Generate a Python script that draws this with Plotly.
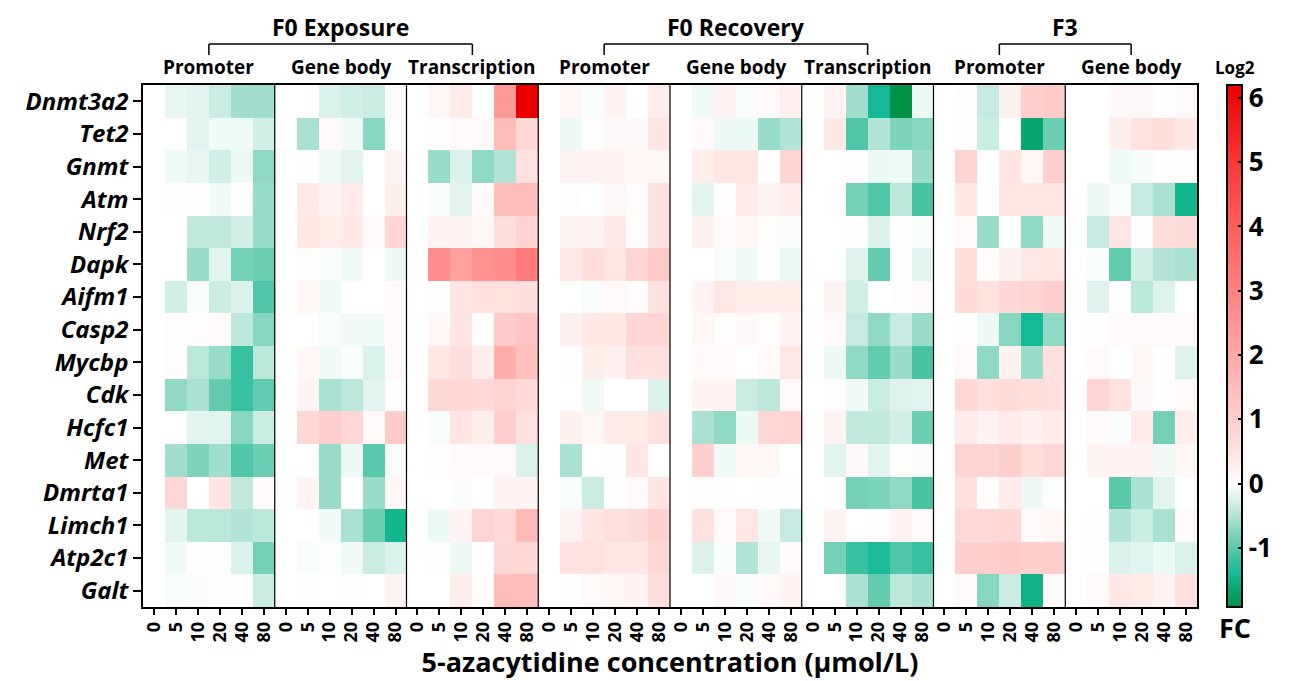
import plotly.graph_objects as go

genes = ["Dnmt3a2", "Tet2", "Gnmt", "Atm", "Nrf2", "Dapk", "Aifm1", "Casp2",
         "Mycbp", "Cdk", "Hcfc1", "Met", "Dmrta1", "Limch1", "Atp2c1", "Galt"]
concentrations = ["0", "5", "10", "20", "40", "80"]
panel_names = ["Promoter", "Gene body", "Transcription",
               "Promoter", "Gene body", "Transcription",
               "Promoter", "Gene body"]
groups = ["F0 Exposure", "F0 Recovery", "F3"]
group_panels = [[0, 1, 2], [3, 4, 5], [6, 7]]
cbar_ticks = [-1, 0, 1, 2, 3, 4, 5, 6]
cbar_labels = ["-1", "0", "1", "2", "3", "4", "5", "6"]

# log2 fold change per gene, columns 0,5,10,20,40,80 umol/L
f0e_promoter = [
    [0, -0.15, -0.2, -0.35, -0.6, -0.6],
    [0, 0, -0.2, -0.1, -0.1, -0.3],
    [0, -0.1, -0.15, -0.3, -0.12, -0.7],
    [0, 0.02, 0.05, -0.1, 0, -0.65],
    [0, 0, -0.4, -0.4, -0.3, -0.65],
    [0, 0, -0.65, -0.2, -0.85, -0.9],
    [0, -0.3, -0.05, -0.35, -0.25, -1.05],
    [0, 0.05, 0.05, 0.1, -0.45, -0.75],
    [0, 0.05, -0.45, -0.65, -1.2, -0.45],
    [0, -0.7, -0.55, -0.95, -1.2, -0.95],
    [0, 0, -0.2, -0.2, -0.75, -0.35],
    [0, -0.6, -0.8, -0.6, -1.05, -0.9],
    [0, 0.8, 0, 0.45, -0.4, 0.1],
    [0, -0.2, -0.45, -0.45, -0.5, -0.45],
    [0, -0.1, 0.02, -0.02, -0.25, -0.85],
    [0, -0.05, -0.03, 0.05, 0.05, -0.35],
]
f0e_genebody = [
    [0, 0, -0.25, -0.3, -0.35, -0.05],
    [0, -0.55, 0.1, -0.08, -0.75, -0.02],
    [0, 0.01, -0.1, -0.2, 0, 0.2],
    [0, 0.4, 0.2, 0.35, 0, 0.3],
    [0, 0.4, 0.3, 0.4, 0.1, 0.8],
    [0, 0.05, -0.05, -0.1, 0, -0.12],
    [0, 0.15, -0.1, 0, 0, 0.1],
    [0, 0, -0.05, -0.08, -0.08, 0.1],
    [0, 0.15, -0.1, -0.05, -0.25, 0.1],
    [0, 0.2, -0.55, -0.45, -0.2, 0.02],
    [0, 0.8, 1.0, 0.8, 0.1, 1.1],
    [0, 0, -0.65, -0.12, -1.0, -0.05],
    [0, 0.2, -0.65, 0, -0.65, 0.15],
    [0, 0, -0.08, -0.55, -0.9, -1.45],
    [0, -0.05, -0.02, -0.1, -0.35, -0.25],
    [0, 0.02, 0, 0.02, 0, 0.2],
]
f0e_transcription = [
    [0, 0.15, 0.35, 0, 2.4, 6.2],
    [0, 0.02, 0.1, 0.1, 1.5, 0.8],
    [0, -0.65, -0.25, -0.7, -0.5, 0.5],
    [0, -0.05, -0.2, 0.1, 1.5, 1.5],
    [0, 0.2, 0.2, 0.15, 0.6, 0.9],
    [0, 2.7, 2.2, 2.6, 2.7, 3.2],
    [0, 0.02, 0.45, 0.55, 0.5, 0.6],
    [0, 0.15, 0.45, 0.05, 1.1, 1.3],
    [0, 0.4, 0.6, 0.3, 1.9, 1.4],
    [0, 0.8, 0.8, 0.7, 0.9, 0.7],
    [0, -0.05, 0.45, 0.3, 1.0, 0.5],
    [0, 0.05, 0.1, 0.1, 0.1, -0.25],
    [0, 0, -0.03, 0, 0.2, 0.2],
    [0, -0.12, 0.2, 0.85, 0.7, 1.6],
    [0, -0.02, -0.12, 0, 0.8, 0.75],
    [0, 0, 0.3, 0.05, 1.5, 1.45],
]
f0r_promoter = [
    [0, 0.15, -0.03, 0.2, 0, 0.3],
    [0, -0.12, 0.05, 0.12, 0.12, 0.45],
    [0, 0.2, 0.2, 0.2, 0.15, 0.15],
    [0, -0.02, 0, 0.12, 0.05, 0.5],
    [0, 0.2, 0.2, 0.4, 0.05, 0.5],
    [0, 0.4, 0.6, 0.45, 0.85, 1.1],
    [0, 0, -0.05, 0.1, 0.05, 0.5],
    [0, 0.25, 0.4, 0.4, 0.8, 0.85],
    [0, 0.02, 0.3, 0.25, 0.5, 0.55],
    [0, 0, -0.1, 0, 0, -0.25],
    [0, 0.25, 0.15, 0.35, 0.35, 0.55],
    [0, -0.55, 0, 0.02, 0.45, 0],
    [0, -0.05, -0.35, 0.02, 0.1, 0.45],
    [0, 0.2, 0.45, 0.55, 0.65, 0.95],
    [0, 0.5, 0.5, 0.4, 0.4, 0.8],
    [0, 0.02, 0.1, 0.15, 0.2, 0.6],
]
f0r_genebody = [
    [0, -0.1, 0.2, -0.05, 0.1, 0.25],
    [0, 0.1, -0.12, -0.12, -0.65, -0.5],
    [0, 0.3, 0.45, 0.45, 0, 0.85],
    [0, -0.2, 0.05, 0.35, 0.2, 0.3],
    [0, 0.25, 0.1, 0.15, 0.05, -0.03],
    [0, 0, -0.05, -0.1, 0, -0.12],
    [0, 0.2, 0.45, 0.3, 0.3, 0.3],
    [0, 0.15, 0.05, 0.12, 0.05, 0.2],
    [0, 0.1, 0.1, 0, 0.1, 0.45],
    [0, 0.2, 0.2, -0.35, -0.45, 0.1],
    [0, -0.55, -0.7, -0.12, 0.8, 0.85],
    [0, 1.0, -0.1, 0.15, 0.15, 0],
    [0, 0.05, -0.02, 0, 0.03, 0.03],
    [0, 0.5, 0.1, 0.45, -0.1, -0.38],
    [0, -0.25, -0.05, -0.5, -0.15, 0.1],
    [0, 0, 0.12, -0.05, 0.1, 0.2],
]
f0r_transcription = [
    [0, 0.2, -0.6, -1.4, -1.92, -0.12],
    [0, 0.4, -1.05, -0.5, -0.8, -0.75],
    [0, 0, 0.02, -0.12, -0.1, -0.65],
    [0, 0.03, -0.85, -1.05, -0.45, -1.1],
    [0, 0, 0.02, -0.25, 0.03, -0.05],
    [0, 0, -0.22, -0.95, 0.03, -0.2],
    [0, 0.2, -0.3, 0, 0.05, 0.08],
    [0, 0.1, -0.38, -0.7, -0.38, -0.65],
    [0, -0.12, -0.7, -0.95, -0.65, -1.1],
    [0, 0.02, -0.1, -0.35, -0.22, -0.2],
    [0, 0.2, -0.4, -0.4, -0.3, -0.9],
    [0, -0.2, 0.12, -0.2, 0.05, -0.03],
    [0, 0.02, -0.85, -0.8, -0.7, -1.1],
    [0, 0.2, 0, 0.02, 0.2, 0.1],
    [0, -0.85, -1.2, -1.35, -1.05, -1.2],
    [0, 0, -0.55, -0.95, -0.45, -0.55],
]
f3_promoter = [
    [0, 0.05, -0.38, 0.25, 1.0, 1.1],
    [0, 0.05, -0.35, 0.02, -1.65, -0.9],
    [0, 0.9, 0.02, 0.45, 0.15, 1.0],
    [0, 0.4, 0, 0.45, 0.45, 0.45],
    [0, 0.1, -0.65, 0, -0.7, -0.1],
    [0, 0.6, 0.05, 0.25, 0.4, 0.4],
    [0, 0.65, 0.5, 0.8, 0.9, 1.0],
    [0, 0.05, -0.12, -0.75, -1.4, -0.7],
    [0, 0.1, -0.7, 0.25, -0.65, 0.5],
    [0, 0.8, 0.55, 0.65, 0.6, 0.55],
    [0, 0.35, 0.2, 0.35, 0.25, 0.35],
    [0, 0.9, 0.85, 1.0, 0.6, 0.8],
    [0, 0.55, 0.05, 0.35, -0.12, 0.02],
    [0, 0.75, 0.75, 0.8, 0.1, 0.15],
    [0, 1.0, 1.0, 1.1, 1.0, 1.0],
    [0, 0.08, -0.75, -0.35, -1.5, 0.08],
]
f3_genebody = [
    [0, 0, 0.12, 0.12, 0.02, 0.08],
    [0, 0, 0.3, 0.5, 0.6, 0.4],
    [0, 0, -0.1, -0.06, 0.03, 0.05],
    [0, -0.12, -0.05, -0.38, -0.55, -1.45],
    [0, -0.38, 0.45, 0.02, 0.6, 0.65],
    [0, -0.05, -0.95, -0.3, -0.5, -0.55],
    [0, -0.22, 0, -0.45, -0.22, 0],
    [0, 0.02, 0.08, 0.08, 0.08, 0.08],
    [0, 0.1, 0, 0.15, 0.02, -0.22],
    [0, 0.85, 0.5, 0.12, 0.03, 0.08],
    [0, 0.08, -0.03, 0.35, -0.85, 0.3],
    [0, 0.2, 0.2, 0.2, -0.08, 0.15],
    [0, 0, -1.0, -0.55, -0.2, 0],
    [0, 0.02, -0.5, -0.35, -0.55, 0.08],
    [0, 0.03, -0.25, -0.2, -0.12, -0.25],
    [0, 0.08, 0.4, 0.35, 0.2, 0.5],
]

panels = [f0e_promoter, f0e_genebody, f0e_transcription,
          f0r_promoter, f0r_genebody, f0r_transcription,
          f3_promoter, f3_genebody]

ZMIN, ZMAX = -1.92, 6.2

# assemble matrix (rows = genes, columns = panel x concentration)
z = []
for gi in range(len(genes)):
    row = []
    for p in panels:
        row.extend(p[gi])
    z.append(row)

ncol_panel = len(concentrations)
ncols = ncol_panel * len(panels)
xs = list(range(ncols))
ticktext = concentrations * len(panels)


def pos(v):
    return (v - ZMIN) / (ZMAX - ZMIN)


colorscale = [
    [pos(-1.92), "rgb(0,146,69)"],
    [pos(-1.4), "rgb(20,185,150)"],
    [pos(-1.0), "rgb(90,200,170)"],
    [pos(-0.5), "rgb(180,228,215)"],
    [pos(0.0), "rgb(255,255,255)"],
    [pos(0.5), "rgb(255,226,224)"],
    [pos(1.0), "rgb(255,207,205)"],
    [pos(2.0), "rgb(255,170,167)"],
    [pos(3.0), "rgb(255,130,128)"],
    [pos(4.0), "rgb(255,95,93)"],
    [pos(5.0), "rgb(250,55,55)"],
    [pos(6.2), "rgb(235,0,0)"],
]

FONT = "Open Sans"

fig = go.Figure()
fig.add_trace(go.Heatmap(
    z=z, x=xs, y=genes,
    zmin=ZMIN, zmax=ZMAX, colorscale=colorscale,
    xgap=0, ygap=0,
    colorbar=dict(
        x=1.028, xanchor="left", xpad=0, ypad=0,
        y=0.5, yanchor="middle", len=1.0, lenmode="fraction",
        thickness=15, thicknessmode="pixels",
        outlinecolor="black", outlinewidth=2,
        tickmode="array", tickvals=cbar_ticks, ticktext=cbar_labels,
        ticks="inside", ticklen=5, tickcolor="black", tickwidth=1.5,
        tickfont=dict(family=FONT, size=26, color="black", weight="bold"),
    ),
    hovertemplate="%{y}: %{z}<extra></extra>",
))

shapes = []
# panel separators
for k in range(1, len(panels)):
    xv = k * ncol_panel - 0.5
    shapes.append(dict(type="line", xref="x", yref="paper", x0=xv, x1=xv, y0=0, y1=1,
                       line=dict(color="black", width=1.2)))

annotations = []
# sub headers
for k, name in enumerate(panel_names):
    cx = k * ncol_panel + (ncol_panel - 1) / 2
    annotations.append(dict(x=cx, y=1.034, xref="x", yref="paper", text=name,
                            showarrow=False, yanchor="middle",
                            font=dict(family=FONT, size=19, color="black", weight="bold")))
# group headers + brackets
for gname, plist in zip(groups, group_panels):
    c0 = plist[0] * ncol_panel + (ncol_panel - 1) / 2
    c1 = plist[-1] * ncol_panel + (ncol_panel - 1) / 2
    annotations.append(dict(x=(c0 + c1) / 2, y=1.111, xref="x", yref="paper", text=gname,
                            showarrow=False, yanchor="middle",
                            font=dict(family=FONT, size=23, color="black", weight="bold")))
    shapes.append(dict(type="line", xref="x", yref="paper", x0=c0, x1=c1, y0=1.0785, y1=1.0785,
                       line=dict(color="black", width=1.5)))
    for cx in (c0, c1):
        shapes.append(dict(type="line", xref="x", yref="paper", x0=cx, x1=cx, y0=1.0785, y1=1.0575,
                           line=dict(color="black", width=1.5)))

annotations.append(dict(x=1.036, y=1.034, xref="paper", yref="paper", text="Log2",
                        showarrow=False, xanchor="center", yanchor="middle",
                        font=dict(family=FONT, size=17, color="black", weight="bold")))
annotations.append(dict(x=1.036, y=-0.04, xref="paper", yref="paper", text="FC",
                        showarrow=False, xanchor="center", yanchor="middle",
                        font=dict(family=FONT, size=27, color="black", weight="bold")))

fig.update_layout(
    width=1294, height=681,
    margin=dict(l=143, r=97, t=85, b=74, autoexpand=False),
    plot_bgcolor="white", paper_bgcolor="white",
    shapes=shapes, annotations=annotations,
    xaxis=dict(
        tickmode="array", tickvals=xs, ticktext=ticktext, tickangle=-90,
        range=[-0.5, ncols - 0.5],
        ticks="outside", ticklen=6, tickcolor="black", tickwidth=1.5,
        showline=True, linecolor="black", linewidth=1.5, mirror=True,
        showgrid=False, zeroline=False, automargin=False,
        tickfont=dict(family=FONT, size=18, color="black", weight="bold"),
        title=dict(text="5-azacytidine concentration (\u03bcmol/L)", standoff=10,
                   font=dict(family=FONT, size=27, color="black", weight="bold")),
    ),
    yaxis=dict(
        autorange="reversed",
        ticks="outside", ticklen=8, tickcolor="black", tickwidth=1.5,
        showline=True, linecolor="black", linewidth=1.5, mirror=True,
        showgrid=False, zeroline=False, automargin=False,
        tickfont=dict(family=FONT, size=24, color="black", weight="bold", style="italic"),
    ),
)

fig.write_html("out.html", config={"displayModeBar": False},
               post_script="document.body.style.margin='0px';")
